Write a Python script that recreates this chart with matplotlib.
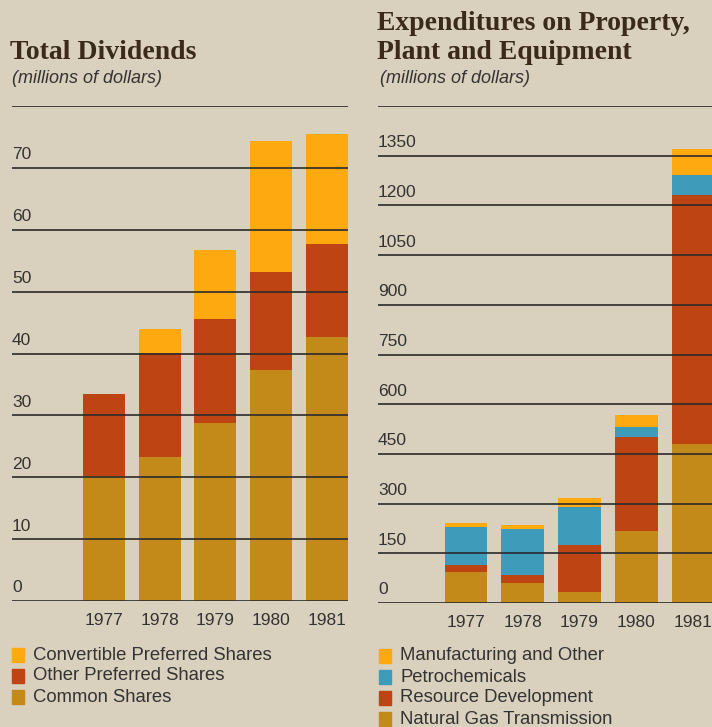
import matplotlib.pyplot as plt
import matplotlib.transforms as mtransforms
from matplotlib.patches import Rectangle

years = ['1977', '1978', '1979', '1980', '1981']

# Total dividends, millions of dollars
common_shares = [20.2, 23.3, 28.7, 37.3, 42.7]
other_preferred = [13.3, 16.8, 16.8, 15.8, 15.0]
convertible_preferred = [0.0, 3.9, 11.3, 21.3, 17.8]

# Capital expenditures, millions of dollars
gas_transmission = [94, 59, 32, 218, 480]
resource_dev = [20, 25, 142, 282, 750]
petrochemicals = [114, 138, 115, 30, 63]
manufacturing = [12, 14, 27, 36, 76]

div_ticks = [0, 10, 20, 30, 40, 50, 60, 70]
capex_ticks = [0, 150, 300, 450, 600, 750, 900, 1050, 1200, 1350]

BG = '#d9d0bd'
ORANGE = '#fda90f'
RED = '#bf4414'
GOLD = '#c38a1a'
BLUE = '#3e9cba'
INK = '#2b2b2b'
SANS = 'Liberation Sans'
SERIF = 'Liberation Serif'

W, H = 712, 727
fig = plt.figure(figsize=(W / 100, H / 100), dpi=100, facecolor=BG)


def px_axes(x0, x1, y_top, y_bot):
    return fig.add_axes([x0 / W, 1 - y_bot / H, (x1 - x0) / W, (y_bot - y_top) / H])


def stacked(ax, layers, colors, width):
    x = range(len(years))
    base = [0] * len(years)
    for vals, col in zip(layers, colors):
        ax.bar(x, vals, width, bottom=base, color=col, zorder=2, linewidth=0)
        base = [b + v for b, v in zip(base, vals)]


def style(ax, ticks, top, xlim):
    ax.set_facecolor('none')
    ax.set_ylim(0, top)
    ax.set_xlim(*xlim)
    for s in ax.spines.values():
        s.set_visible(False)
    ax.set_xticks([])
    ax.set_yticks([])
    for t in ticks + [top]:
        ax.axhline(t, color=INK, lw=1.2, zorder=3)
    trans = mtransforms.offset_copy(ax.get_yaxis_transform(), fig=fig, y=4, units='points')
    for t in ticks:
        ax.text(0, t, str(t), transform=trans, ha='left', va='bottom',
                fontsize=12.5, family=SANS, color='#333333')
    for i, y in enumerate(years):
        ax.text(i, -0.024, y, transform=ax.get_xaxis_transform(), ha='center', va='top',
                fontsize=12.5, family=SANS, color='#333333')


# left: dividends
ax1 = px_axes(12, 348, 106, 601)
stacked(ax1, [common_shares, other_preferred, convertible_preferred], [GOLD, RED, ORANGE], 0.753)
style(ax1, div_ticks, 80, (-1.649, 4.376))

# right: capital expenditures (last bar runs off the page edge)
ax2 = px_axes(378, 714, 106, 603)
stacked(ax2, [gas_transmission, resource_dev, petrochemicals, manufacturing],
        [GOLD, RED, BLUE, ORANGE], 0.75)
style(ax2, capex_ticks, 1500, (-1.55, 4.37))

# titles
TITLE = dict(family=SERIF, weight='bold', fontsize=20, color='#3a2a1a', va='baseline')
SUB = dict(family=SANS, style='italic', fontsize=13, color='#333333', va='baseline')
fig.text(10 / W, 1 - 59 / H, 'Total Dividends', **TITLE)
fig.text(12 / W, 1 - 83 / H, '(millions of dollars)', **SUB)
fig.text(377 / W, 1 - 30 / H, 'Expenditures on Property,', **TITLE)
fig.text(377 / W, 1 - 59 / H, 'Plant and Equipment', **TITLE)
fig.text(380 / W, 1 - 83 / H, '(millions of dollars)', **SUB)


def legend(x, y, items):
    for i, (label, col) in enumerate(items):
        yc = y + i * 21
        fig.patches.append(Rectangle((x / W, 1 - (yc + 7) / H), 12 / W, 14 / H,
                                     transform=fig.transFigure, color=col))
        fig.text((x + 21) / W, 1 - yc / H, label, family=SANS, fontsize=13.3,
                 color='#333333', va='center')


legend(12, 655, [('Convertible Preferred Shares', ORANGE),
                 ('Other Preferred Shares', RED),
                 ('Common Shares', GOLD)])
legend(379, 656, [('Manufacturing and Other', ORANGE),
                  ('Petrochemicals', BLUE),
                  ('Resource Development', RED),
                  ('Natural Gas Transmission', GOLD)])

fig.savefig('out.png', dpi=100, facecolor=BG)
